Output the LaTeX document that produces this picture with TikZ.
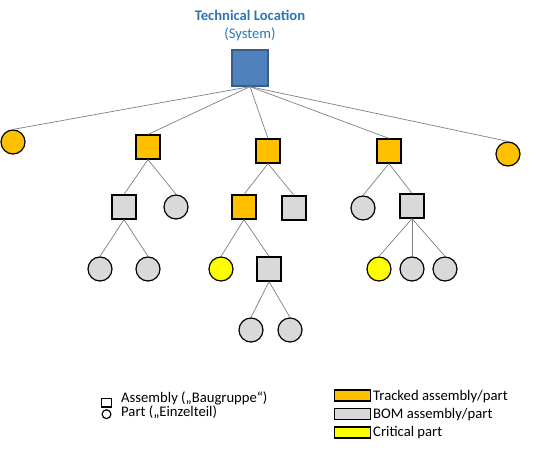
\documentclass[tikz,border=0pt]{standalone}
\usepackage{fontspec}
\setmainfont{Carlito}
\definecolor{orng}{HTML}{FFC000}
\definecolor{gry}{HTML}{D9D9D9}
\definecolor{yel}{HTML}{FFFF00}
\definecolor{topblue}{HTML}{4F81BD}
\definecolor{topborder}{HTML}{385D8A}
\definecolor{titleblue}{HTML}{2E75B6}
\definecolor{linegray}{HTML}{7F7F7F}
\begin{document}
\begin{tikzpicture}[x=1pt,y=-1pt,
  every node/.style={font=\fontsize{14.67}{17}\selectfont},
  sq/.style={rectangle,draw=black,line width=1.2pt,minimum size=24pt,inner sep=0pt},
  ci/.style={circle,draw=black,line width=1.2pt,minimum size=24pt,inner sep=0pt},
  conn/.style={draw=linegray,line width=0.7pt},
  lgbox/.style={rectangle,draw=black,line width=1.3pt,minimum width=36pt,minimum height=11pt,inner sep=0pt},
  lgtext/.style={anchor=base west,inner sep=0pt}]
\useasboundingbox (0,0) rectangle (543,450);
% title
\node[anchor=base,text=titleblue,font=\fontsize{14.67}{17}\selectfont\bfseries,inner sep=0pt] (title) at (250,20) {Technical Location};
\node[anchor=base,text=titleblue,inner sep=0pt] (subtitle) at (250,38) {(System)};
% root
\node[sq,fill=topblue,draw=topborder,line width=1.3pt,minimum size=36pt] (root) at (250,68) {};
% level 1
\node[ci,fill=orng] (c1) at (13,142) {};
\node[sq,fill=orng] (s1) at (148,147) {};
\node[sq,fill=orng] (s2) at (268,151) {};
\node[sq,fill=orng] (s3) at (389,151) {};
\node[ci,fill=orng] (c2) at (508,154) {};
% level 2
\node[sq,fill=gry] (s11) at (124,207) {};
\node[ci,fill=gry] (c12) at (176,207) {};
\node[sq,fill=orng] (s21) at (244,207) {};
\node[sq,fill=gry] (s22) at (294,208) {};
\node[ci,fill=gry] (c31) at (363,208) {};
\node[sq,fill=gry] (s32) at (412,206) {};
% level 3
\node[ci,fill=gry] (c111) at (100,269) {};
\node[ci,fill=gry] (c112) at (148,269) {};
\node[ci,fill=yel] (c211) at (221,269) {};
\node[sq,fill=gry] (s212) at (269,269) {};
\node[ci,fill=yel] (c321) at (379,269) {};
\node[ci,fill=gry] (c322) at (412,269) {};
\node[ci,fill=gry] (c323) at (445,269) {};
% level 4
\node[ci,fill=gry] (c2121) at (251,330) {};
\node[ci,fill=gry] (c2122) at (290,330) {};
% connectors
\foreach \ch in {c1,s1,s2,s3,c2} \draw[conn] (root.south) -- (\ch.north);
\draw[conn] (s1.south) -- (s11.north);
\draw[conn] (s1.south) -- (c12.north);
\draw[conn] (s11.south) -- (c111.north);
\draw[conn] (s11.south) -- (c112.north);
\draw[conn] (s2.south) -- (s21.north);
\draw[conn] (s2.south) -- (s22.north);
\draw[conn] (s21.south) -- (c211.north);
\draw[conn] (s21.south) -- (s212.north);
\draw[conn] (s212.south) -- (c2121.north);
\draw[conn] (s212.south) -- (c2122.north);
\draw[conn] (s3.south) -- (c31.north);
\draw[conn] (s3.south) -- (s32.north);
\draw[conn] (s32.south) -- (c321.north);
\draw[conn] (s32.south) -- (c322.north);
\draw[conn] (s32.south) -- (c323.north);
% legend left
\node[rectangle,draw=black,line width=1.2pt,minimum width=10pt,minimum height=8.5pt,inner sep=0pt] (lsq) at (106.5,402.8) {};
\node[circle,draw=black,line width=1.2pt,minimum size=8.8pt,inner sep=0pt] (lci) at (106.5,414.2) {};
\node[lgtext] (lsqt) at (121,402) {Assembly („Baugruppe“)};
\node[lgtext] (lcit) at (121,416.7) {Part („Einzelteil)};
% legend right
\node[lgbox,fill=orng] (lb1) at (352.5,395.5) {};
\node[lgbox,fill=gry] (lb2) at (352.5,414) {};
\node[lgbox,fill=yel] (lb3) at (352.5,432.5) {};
\node[lgtext] (lt1) at (373,400.4) {Tracked assembly/part};
\node[lgtext] (lt2) at (373,418.7) {BOM assembly/part};
\node[lgtext] (lt3) at (373,436.9) {Critical part};
\end{tikzpicture}
\end{document}
